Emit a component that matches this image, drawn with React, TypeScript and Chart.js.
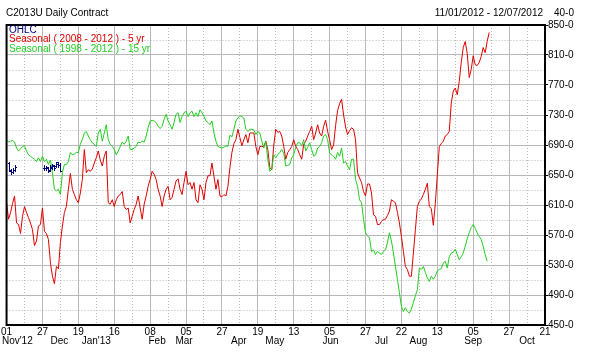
import React, { useEffect, useRef } from 'react';
import { Chart, registerables } from 'chart.js';

Chart.register(...registerables);

const FONT = "'Liberation Sans', Arial, sans-serif";

const titleText = 'C2013U Daily Contract';
const rangeText = '11/01/2012 - 12/07/2012';
const unitText = '40-0';
const legendLabels = ['OHLC', 'Seasonal ( 2008 - 2012 ) - 5 yr', 'Seasonal ( 1998 - 2012 ) - 15 yr'];
const legendColors = ['#000080', '#e00000', '#22cc22'];

const dayLabels = ['01', '27', '19', '16', '08', '05', '27', '19', '13', '05', '27', '22', '13', '05', '27', '21'];
const monthLabels = ["Nov'12", 'Dec', "Jan'13", 'Feb', 'Mar', 'Apr', 'May', 'Jun', 'Jul', 'Aug', 'Sep', 'Oct'];
const monthPositions = [5.4, 26.5, 45, 75.5, 89, 116.5, 134.5, 162.5, 188, 206.5, 234, 261];

const yMin = 450;
const yMax = 850;
const yStep = 20;
const yLabelStep = 40;
const xMax = 270;
const xStep = 9;
const xLabelStep = 18;

// Seasonal (2008 - 2012) - 5 yr, one value per trading day
const red5yr = [
  613, 591, 600, 612, 622, 586, 584, 572, 595, 608,
  600, 593, 586, 577, 556, 562, 582, 584, 606, 575,
  572, 564, 533, 515, 505, 528, 525, 560, 582, 600,
  608, 631, 652, 631, 624, 617, 613, 626, 644, 684,
  653, 657, 655, 658, 666, 673, 682, 670, 662, 675,
  682, 613, 611, 617, 608, 617, 622, 624, 628, 608,
  604, 606, 586, 595, 604, 611, 622, 606, 591, 611,
  622, 635, 644, 655, 651, 644, 631, 622, 608, 622,
  631, 635, 617, 620, 631, 642, 645, 631, 624, 640,
  655, 637, 640, 631, 640, 617, 613, 637, 631, 617,
  640, 649, 649, 666, 648, 631, 644, 622, 621, 624,
  622, 635, 660, 680, 692, 697, 711, 700, 689, 697,
  704, 693, 706, 706, 706, 688, 677, 688, 688, 688,
  695, 684, 660, 657, 690, 711, 707, 708, 702, 688,
  671, 680, 684, 688, 697, 688, 684, 677, 671, 691,
  695, 702, 708, 715, 697, 706, 717, 706, 702, 715,
  723, 708, 697, 684, 690, 716, 736, 745, 751, 730,
  714, 704, 709, 713, 711, 697, 653, 646, 640, 628,
  622, 638, 638, 626, 597, 595, 584, 584, 588, 591,
  591, 596, 602, 617, 615, 613, 600, 586, 568, 548,
  528, 524, 515, 515, 546, 577, 608, 615, 618, 624,
  631, 639, 608, 605, 583, 612, 650, 688, 692, 695,
  702, 704, 708, 746, 762, 766, 757, 775, 800, 820,
  828, 812, 780, 791, 809, 797, 796, 800, 808, 820,
  813, 828, 840,
];

// Seasonal (1998 - 2012) - 15 yr, one value per trading day
const green15yr = [
  697, 694, 695, 696, 694, 686, 682, 685, 688, 689,
  682, 677, 675, 673, 671, 668, 673, 668, 675, 668,
  671, 664, 670, 653, 631, 629, 631, 624, 653, 664,
  664, 668, 680, 677, 678, 680, 680, 691, 697, 706,
  708, 702, 697, 693, 691, 688, 706, 711, 695, 706,
  717, 697, 691, 688, 684, 677, 682, 688, 694, 691,
  695, 702, 684, 684, 686, 688, 694, 693, 695, 694,
  702, 713, 722, 723, 722, 720, 715, 712, 715, 724,
  731, 722, 717, 711, 720, 731, 733, 720, 728, 733,
  735, 728, 733, 735, 728, 733, 728, 737, 733, 728,
  722, 720, 717, 722, 706, 695, 688, 687, 686, 687,
  689, 688, 703, 701, 711, 722, 726, 729, 728, 726,
  711, 708, 711, 711, 710, 704, 708, 706, 695, 686,
  695, 671, 655, 658, 677, 673, 677, 680, 684, 679,
  662, 663, 664, 673, 677, 687, 693, 693, 689, 697,
  682, 687, 693, 684, 675, 677, 686, 688, 693, 702,
  704, 697, 679, 677, 675, 671, 680, 675, 686, 666,
  668, 662, 657, 671, 671, 644, 635, 617, 613, 591,
  573, 569, 566, 548, 550, 544, 548, 546, 544, 548,
  550, 560, 573, 562, 546, 528, 511, 493, 475, 468,
  473, 468, 466, 471, 480, 489, 497, 526, 524, 528,
  520, 513, 508, 515, 511, 515, 522, 524, 525, 533,
  535, 526, 541, 546, 547, 551, 544, 537, 541, 546,
  555, 565, 573, 580, 584, 579, 573, 568, 564, 555,
  544, 535,
];

// OHLC bars of the contract
const ohlcDays = [1, 2, 3, 4, 19, 20, 21, 22, 23, 24, 25, 26, 27];
const ohlcOpen = [666, 656, 654, 657, 660, 659, 660, 657, 660, 662, 662, 665, 664];
const ohlcHigh = [667, 658, 659, 663, 663, 662, 661, 663, 665, 664, 668, 667, 666];
const ohlcLow = [655, 652, 653, 655, 657, 657, 654, 655, 658, 657, 661, 661, 655];
const ohlcClose = [657, 654, 657, 661, 659, 661, 656, 661, 663, 659, 667, 663, 656];

const isMajorX = (v: number) => Math.round(v) % xLabelStep === 0;
const isMajorY = (v: number) => Math.round(v - yMin) % yLabelStep === 0;

const decorPlugin = {
  id: 'decor',
  afterDatasetsDraw(chart: any) {
    const ctx = chart.ctx as CanvasRenderingContext2D;
    const xs = chart.scales.x;
    const ys = chart.scales.y;
    ctx.save();
    // OHLC bars
    ctx.strokeStyle = legendColors[0];
    ctx.lineWidth = 1;
    for (let k = 0; k < ohlcDays.length; k++) {
      const px = Math.round(xs.getPixelForValue(ohlcDays[k])) + 0.5;
      const yH = Math.round(ys.getPixelForValue(ohlcHigh[k]));
      const yL = Math.round(ys.getPixelForValue(ohlcLow[k]));
      const yO = Math.round(ys.getPixelForValue(ohlcOpen[k])) + 0.5;
      const yC = Math.round(ys.getPixelForValue(ohlcClose[k])) + 0.5;
      ctx.beginPath();
      ctx.moveTo(px, yH);
      ctx.lineTo(px, yL + 1);
      ctx.moveTo(px - 1.5, yO);
      ctx.lineTo(px, yO);
      ctx.moveTo(px, yC);
      ctx.lineTo(px + 1.5, yC);
      ctx.stroke();
    }
    ctx.restore();
  },
  afterDraw(chart: any) {
    const ctx = chart.ctx as CanvasRenderingContext2D;
    const area = chart.chartArea;
    const xs = chart.scales.x;
    ctx.save();
    // frame
    ctx.strokeStyle = '#000';
    ctx.lineWidth = 2;
    ctx.strokeRect(area.left, area.top, area.right - area.left, area.bottom - area.top);
    // title texts
    ctx.font = `10px ${FONT}`;
    ctx.fillStyle = '#000';
    ctx.textBaseline = 'middle';
    ctx.textAlign = 'left';
    ctx.fillText(titleText, 6, 13);
    ctx.textAlign = 'right';
    ctx.fillText(rangeText, 543, 13);
    ctx.textAlign = 'left';
    ctx.fillText(unitText, 554, 13);
    // legend
    const legendY = [30, 39.5, 49];
    for (let k = 0; k < legendLabels.length; k++) {
      ctx.fillStyle = legendColors[k];
      ctx.fillText(legendLabels[k], 9, legendY[k]);
    }
    // month labels
    ctx.fillStyle = '#000';
    ctx.textAlign = 'center';
    for (let k = 0; k < monthLabels.length; k++) {
      ctx.fillText(monthLabels[k], xs.getPixelForValue(monthPositions[k]), 341.5);
    }
    ctx.restore();
  },
};

export default function App() {
  const ref = useRef<HTMLCanvasElement>(null);
  useEffect(() => {
    const canvas = ref.current;
    if (!canvas) return;
    const chart = new Chart(canvas, {
      type: 'line',
      data: {
        datasets: [
          {
            label: legendLabels[2],
            data: green15yr.map((v, i) => ({ x: i, y: v })),
            borderColor: legendColors[2],
            borderWidth: 1,
            pointRadius: 0,
            tension: 0,
            fill: false,
          },
          {
            label: legendLabels[1],
            data: red5yr.map((v, i) => ({ x: i, y: v })),
            borderColor: legendColors[1],
            borderWidth: 1,
            pointRadius: 0,
            tension: 0,
            fill: false,
          },
        ],
      },
      options: {
        responsive: false,
        animation: false,
        devicePixelRatio: 1,
        layout: { padding: { left: 5, top: 25, right: 0, bottom: 0 } },
        plugins: {
          legend: { display: false },
          tooltip: { enabled: false },
          title: { display: false },
        },
        scales: {
          x: {
            type: 'linear',
            min: 0,
            max: xMax,
            afterFit: (s: any) => {
              s.height = 30;
            },
            ticks: {
              stepSize: xStep,
              autoSkip: false,
              maxRotation: 0,
              minRotation: 0,
              padding: 1,
              color: '#000',
              font: { family: FONT, size: 10 },
              callback: (v: any) => (isMajorX(v) ? dayLabels[Math.round(v) / xLabelStep] : ''),
            },
            grid: {
              color: '#b8b8b8',
              lineWidth: 1,
              drawTicks: false,
            },
            border: {
              display: false,
              dash: (c: any) => (c.tick && !isMajorX(c.tick.value) ? [1, 2] : []),
            },
          },
          y: {
            type: 'linear',
            position: 'right',
            min: yMin,
            max: yMax,
            afterFit: (s: any) => {
              s.width = 50;
            },
            ticks: {
              stepSize: yStep,
              autoSkip: false,
              padding: 0,
              color: '#000',
              font: { family: FONT, size: 10 },
              callback: (v: any) => (isMajorY(v) ? `${v}-0` : ''),
            },
            grid: {
              color: '#b8b8b8',
              lineWidth: 1,
              drawTicks: true,
              tickLength: 3,
              tickColor: (c: any) => (c.tick && isMajorY(c.tick.value) ? '#000' : 'rgba(0,0,0,0)'),
            },
            border: {
              display: false,
              dash: (c: any) => (c.tick && !isMajorY(c.tick.value) ? [1, 2] : []),
            },
          },
        },
      },
      plugins: [decorPlugin],
    } as any);
    return () => chart.destroy();
  }, []);
  return (
    <div style={{ position: 'fixed', left: 0, top: 0, width: 595, height: 355, background: '#fff' }}>
      <canvas ref={ref} width={595} height={355} style={{ display: 'block', width: 595, height: 355 }} />
    </div>
  );
}
